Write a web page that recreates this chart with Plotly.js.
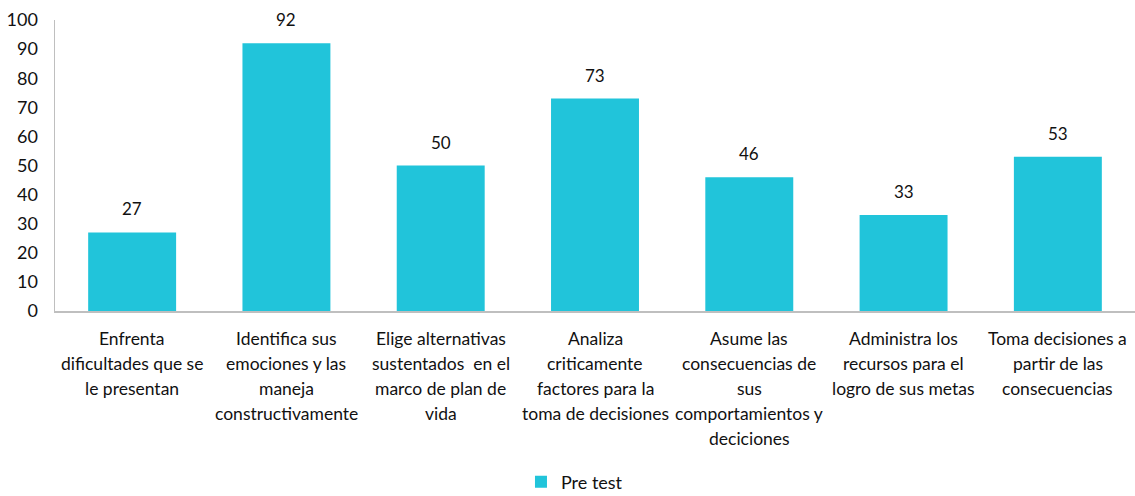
<!DOCTYPE html>
<html>
<head>
<meta charset="utf-8">
<script src="https://cdn.plot.ly/plotly-3.0.1.min.js"></script>
<style>html,body{margin:0;padding:0;background:#fff;}#chart{width:1135px;height:496px;}</style>
</head>
<body>
<div id="chart"></div>
<script>
const categories = [
  "Enfrenta<br>dificultades que se<br>le presentan",
  "Identifica sus<br>emociones y las<br>maneja<br>constructivamente",
  "Elige alternativas<br>sustentados  en el<br>marco de plan de<br>vida",
  "Analiza<br>criticamente<br>factores para la<br>toma de decisiones",
  "Asume las<br>consecuencias de<br>sus<br>comportamientos y<br>deciciones",
  "Administra los<br>recursos para el<br>logro de sus metas",
  "Toma decisiones a<br>partir de las<br>consecuencias"
];
const preTest = [27, 92, 50, 73, 46, 33, 53];
const seriesName = "Pre test";
const yTicks = [0, 10, 20, 30, 40, 50, 60, 70, 80, 90, 100];

const FONT = "Lato, 'Open Sans', sans-serif";
const TXT = '#111111';
const keys = categories.map((c, i) => "c" + i);

const annotations = [];
keys.forEach((k, i) => {
  annotations.push({
    x: k, y: preTest[i], xref: 'x', yref: 'y',
    text: String(preTest[i]), showarrow: false,
    yanchor: 'bottom', yshift: 11,
    font: {family: FONT, size: 17, color: TXT}
  });
  categories[i].split('<br>').forEach((line, j) => {
    annotations.push({
      x: k, y: 0, xref: 'x', yref: 'paper',
      text: line, showarrow: false,
      yanchor: 'middle', yshift: -27 - j * 25,
      font: {family: FONT, size: 17.5, color: TXT}
    });
  });
});

const trace = {
  type: 'bar', x: keys, y: preTest, name: seriesName,
  marker: {color: '#21C4DA'}, showlegend: true
};

const layout = {
  width: 1135, height: 496,
  margin: {l: 55, r: 0, t: 20, b: 185, autoexpand: false},
  paper_bgcolor: '#fff', plot_bgcolor: '#fff',
  bargap: 0.43,
  font: {family: FONT, color: TXT},
  xaxis: {
    showticklabels: false, showgrid: false, zeroline: false,
    showline: true, linecolor: '#bfbfbf', linewidth: 1.5, ticks: ''
  },
  yaxis: {
    range: [0, 100], tickvals: yTicks, showgrid: false, zeroline: false,
    showline: true, linecolor: '#bfbfbf', linewidth: 1.5,
    ticks: 'outside', ticklen: 12, tickcolor: 'rgba(0,0,0,0)',
    tickfont: {family: FONT, size: 18, color: TXT}
  },
  legend: {
    orientation: 'h', x: 0.481, xanchor: 'center', xref: 'paper',
    y: -0.588, yref: 'paper', yanchor: 'middle',
    font: {family: FONT, size: 18, color: TXT}
  },
  annotations: annotations
};

Plotly.newPlot('chart', [trace], layout, {displayModeBar: false, staticPlot: true});
</script>
</body>
</html>
